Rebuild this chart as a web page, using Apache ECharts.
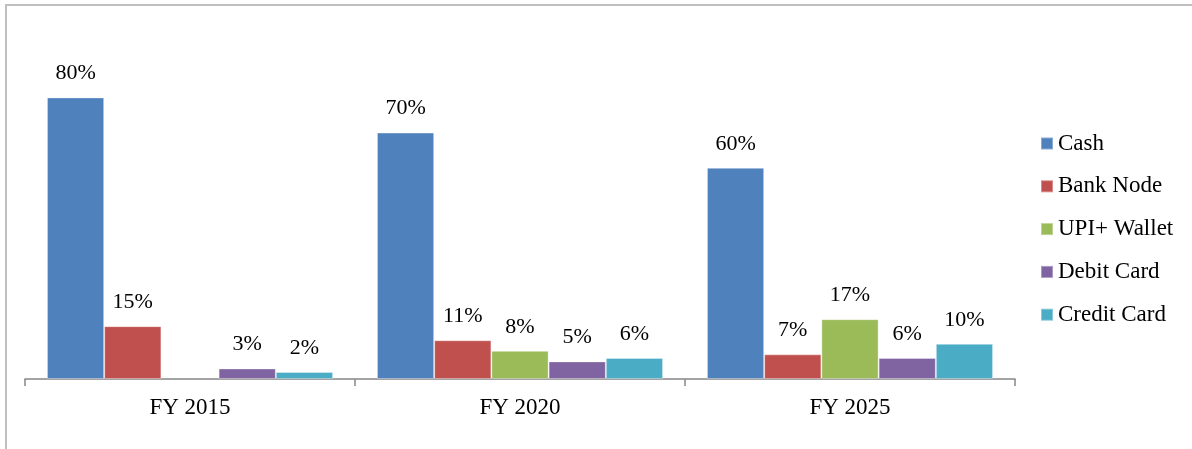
<!DOCTYPE html>
<html>
<head>
<meta charset="utf-8">
<script src="https://cdn.jsdelivr.net/npm/echarts@6/dist/echarts.min.js"></script>
<style>
  html, body { margin: 0; padding: 0; background: #fff; }
  #chart { width: 1192px; height: 449px; }
</style>
</head>
<body>
<div id="chart"></div>
<script>
// Payment mode shares by fiscal year (percent)
const years = ['FY 2015', 'FY 2020', 'FY 2025'];
const cash = [80, 70, 60];
const bankNode = [15, 11, 7];
const upiWallet = [null, 8, 17];
const debitCard = [3, 5, 6];
const creditCard = [2, 6, 10];

const seriesNames = ['Cash', 'Bank Node', 'UPI+ Wallet', 'Debit Card', 'Credit Card'];
const seriesColors = ['#4F81BD', '#C0504D', '#9BBB59', '#8064A2', '#4BACC6'];
const seriesData = [cash, bankNode, upiWallet, debitCard, creditCard];

const FONT = '"Liberation Serif", "Times New Roman", serif';

const chart = echarts.init(document.getElementById('chart'), null, { renderer: 'canvas' });

chart.setOption({
  animation: false,
  backgroundColor: '#ffffff',
  graphic: [{
    type: 'rect',
    shape: { x: 6, y: 5, width: 1300, height: 600 },
    style: { fill: 'none', stroke: '#bfbfbf', lineWidth: 2 },
    silent: true
  }],
  grid: { left: 25, right: 177, top: 27, bottom: 70, containLabel: false },
  legend: {
    orient: 'vertical',
    left: 1040,
    top: 132,
    padding: 0,
    itemWidth: 12,
    itemHeight: 12,
    itemGap: 19.8,
    icon: 'rect',
    selectedMode: false,
    textStyle: { fontFamily: FONT, fontSize: 23, color: '#000', lineHeight: 22 },
    data: seriesNames
  },
  xAxis: {
    type: 'category',
    data: years,
    boundaryGap: true,
    axisLine: { show: true, lineStyle: { color: '#868686', width: 1.5 } },
    axisTick: { show: true, interval: 0, length: 7, lineStyle: { color: '#868686', width: 1.5 } },
    axisLabel: { fontFamily: FONT, fontSize: 23, color: '#000', margin: 17 }
  },
  yAxis: {
    type: 'value',
    min: 0,
    max: 100,
    show: false,
    splitLine: { show: false }
  },
  series: seriesNames.map((name, i) => ({
    name: name,
    type: 'bar',
    data: seriesData[i],
    barGap: '0%',
    barCategoryGap: '13.3%',
    itemStyle: {
      color: seriesColors[i],
      borderColor: 'rgba(255,255,255,0.35)',
      borderWidth: 1
    },
    label: {
      show: true,
      position: 'top',
      distance: 13,
      formatter: p => (p.value == null ? '' : p.value + '%'),
      fontFamily: FONT,
      fontSize: 22,
      color: '#000'
    }
  }))
});
</script>
</body>
</html>
